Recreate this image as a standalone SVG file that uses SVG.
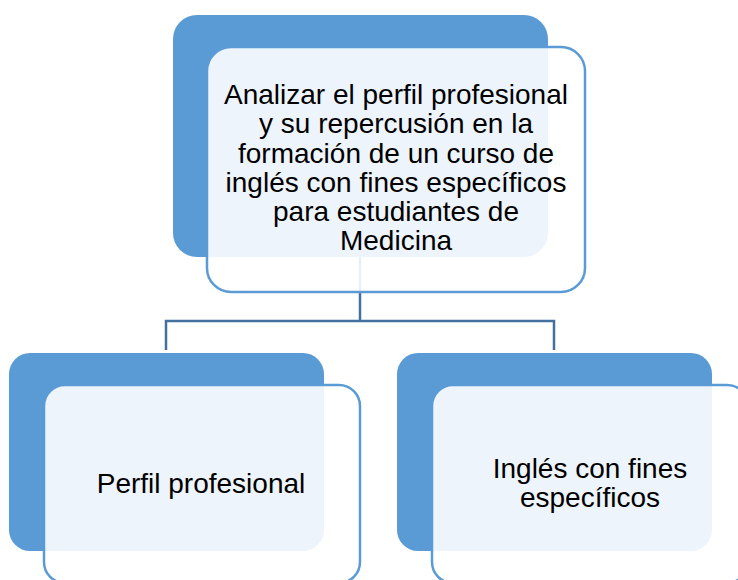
<svg xmlns="http://www.w3.org/2000/svg" width="738" height="580" viewBox="0 0 738 580">
<style>
.back{fill:#5B9BD5;}
.front{fill:#FFFFFF;fill-opacity:0.89;stroke:#5B9BD5;stroke-width:2.5;}
.conn{fill:none;stroke:#41719C;stroke-width:2.5;}
.t{font-family:"Liberation Sans",Arial,sans-serif;font-size:28px;fill:#000000;text-anchor:middle;}
</style>
<rect width="738" height="580" fill="#FFFFFF"/>
<g id="connectors">
<path class="conn" d="M360,257 V321"/>
<path class="conn" d="M166,350 V321 H554 V350"/>
</g>
<g id="node-root">
<rect class="back" x="173" y="15" width="375" height="242" rx="24" ry="24"/>
<rect class="front" x="207" y="47" width="378" height="245" rx="24" ry="24"/>
<text class="t" x="396"><tspan x="396" y="104">Analizar el perfil profesional</tspan><tspan x="396" y="133">y su repercusión en la</tspan><tspan x="396" y="163">formación de un curso de</tspan><tspan x="396" y="192">inglés con fines específicos</tspan><tspan x="396" y="221">para estudiantes de</tspan><tspan x="396" y="250">Medicina</tspan></text>
</g>
<g id="node-perfil">
<rect class="back" x="9" y="353" width="315" height="198" rx="21" ry="21"/>
<rect class="front" x="44" y="385" width="316" height="198" rx="21" ry="21"/>
<text class="t" x="201" y="493">Perfil profesional</text>
</g>
<g id="node-ingles">
<rect class="back" x="397" y="353" width="315" height="198" rx="21" ry="21"/>
<rect class="front" x="432" y="385" width="316" height="198" rx="21" ry="21"/>
<text class="t" x="590"><tspan x="590" y="478">Inglés con fines</tspan><tspan x="590" y="507">específicos</tspan></text>
</g>
</svg>
